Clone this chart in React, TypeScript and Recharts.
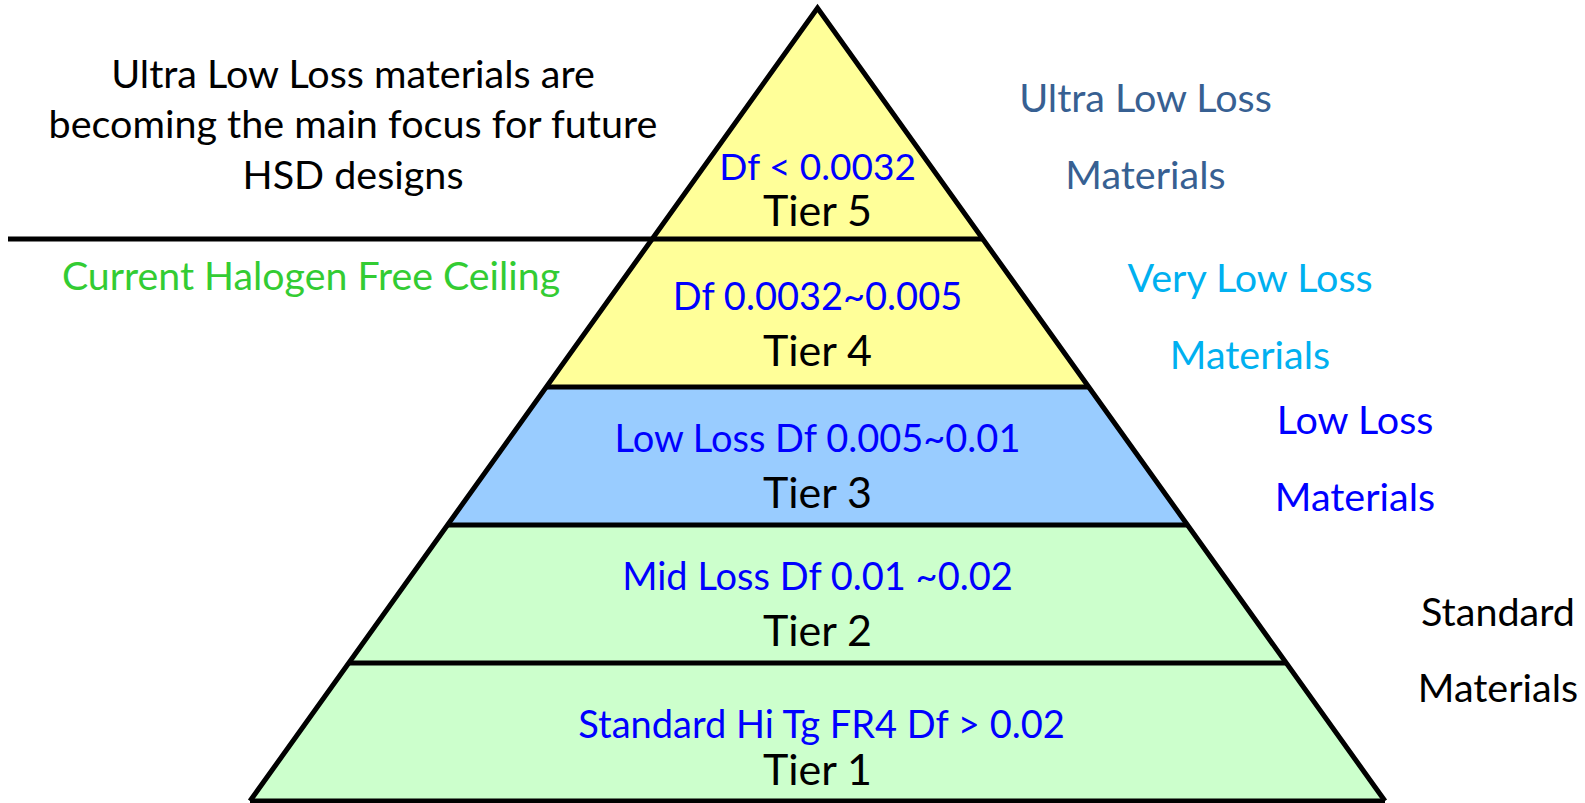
import React from 'react';
import { ComposedChart, Area, XAxis, YAxis, ReferenceLine, ReferenceDot } from 'recharts';

// pyramid in diagram units: x from the centre line, y up from the base
const apexHeight = 793;
const baseHalfWidth = 567.5;
const tierNames = ['Tier 1', 'Tier 2', 'Tier 3', 'Tier 4', 'Tier 5'];
const tierRanges = [
  'Standard Hi Tg FR4 Df > 0.02',
  'Mid Loss Df 0.01 ~0.02',
  'Low Loss Df 0.005~0.01',
  'Df 0.0032~0.005',
  'Df < 0.0032',
];
const tierTops = [138, 276, 414, 562, 793];
const ceilingLevel = 562;

const introLines = ['Ultra Low Loss materials are', 'becoming the main focus for future', 'HSD designs'];
const ceilingNote = 'Current Halogen Free Ceiling';
const classNames = [
  ['Standard', 'Materials'],
  ['Low Loss', 'Materials'],
  ['Very Low Loss', 'Materials'],
  ['Ultra Low Loss', 'Materials'],
];

// layout / styling
const W = 1585;
const H = 803;
const FONT = 'Lato, sans-serif';
const tierColors = ['#CCFFCC', '#CCFFCC', '#99CCFF', '#FFFF99', '#FFFF99'];
const tierLabelX = [4, 0, 0, 0, 0];
const tierLabelY = [[76, 31], [224, 170], [362, 308], [504, 450], [634, 590]];
const rangeFontSize = [38, 38, 38, 38, 37];
const classLabelX = [680.5, 537.5, 432.5, 328];
const classLabelY = [[189, 113], [381, 304], [523, 446], [703, 626]];
const classColors = ['#000000', '#0000FF', '#00B0F0', '#376092'];
const introX = -464.5;
const introY = [727, 677, 626];
const ceilingNoteX = -506.5;
const ceilingNoteY = 525;
const ceilingLineStart = -809.5;

const halfWidth = (h: number) => baseHalfWidth * (1 - h / apexHeight);

const outline = [
  { x: -baseHalfWidth, y: 0 },
  { x: 0, y: apexHeight },
  { x: baseHalfWidth, y: 0 },
];

const boundaries = [0, ...tierTops.slice(0, -1)];

const note = (key: string, x: number, y: number, text: string, color: string, size: number) => (
  <ReferenceDot
    key={key}
    x={x}
    y={y}
    r={0}
    fill="none"
    stroke="none"
    ifOverflow="visible"
    label={{ value: text, position: 'center', fill: color, fontSize: size, fontFamily: FONT }}
  />
);

export default function App() {
  const stops: React.ReactNode[] = [];
  for (let i = tierTops.length - 1; i >= 0; i--) {
    const top = tierTops[i];
    const bottom = i > 0 ? tierTops[i - 1] : 0;
    stops.push(<stop key={`a${i}`} offset={(apexHeight - top) / apexHeight} stopColor={tierColors[i]} />);
    stops.push(<stop key={`b${i}`} offset={(apexHeight - bottom) / apexHeight} stopColor={tierColors[i]} />);
  }

  return (
    <div style={{ position: 'absolute', left: 0, top: 0, width: W, height: H, background: '#fff' }}>
      <ComposedChart width={W} height={H} data={outline} margin={{ top: 0, right: 0, bottom: 0, left: 0 }}>
        <defs>
          <linearGradient id="tierFill" x1="0" y1="0" x2="0" y2="1">
            {stops}
          </linearGradient>
        </defs>
        <XAxis type="number" dataKey="x" domain={[-817.5, 767.5]} allowDataOverflow hide />
        <YAxis type="number" domain={[-2, 801]} allowDataOverflow hide />
        <Area
          type="linear"
          dataKey="y"
          baseValue={0}
          fill="url(#tierFill)"
          fillOpacity={1}
          stroke="#000"
          strokeWidth={5}
          dot={false}
          activeDot={false}
          isAnimationActive={false}
        />
        {boundaries.map((h) => (
          <ReferenceLine
            key={`b${h}`}
            segment={[
              { x: h === ceilingLevel ? ceilingLineStart : -halfWidth(h), y: h },
              { x: halfWidth(h), y: h },
            ]}
            stroke="#000"
            strokeWidth={5}
            ifOverflow="visible"
          />
        ))}
        {tierNames.map((t, i) =>
          note(`df${i}`, tierLabelX[i], tierLabelY[i][0], tierRanges[i], '#0000FF', rangeFontSize[i])
        )}
        {tierNames.map((t, i) => note(`t${i}`, 0, tierLabelY[i][1], t, '#000000', 43))}
        {introLines.map((l, i) => note(`i${i}`, introX, introY[i], l, '#000000', 39.5))}
        {note('ceil', ceilingNoteX, ceilingNoteY, ceilingNote, '#33CC33', 39.3)}
        {classNames.map((lines, i) =>
          lines.map((l, j) => note(`c${i}${j}`, classLabelX[i], classLabelY[i][j], l, classColors[i], 39.5))
        )}
      </ComposedChart>
    </div>
  );
}
